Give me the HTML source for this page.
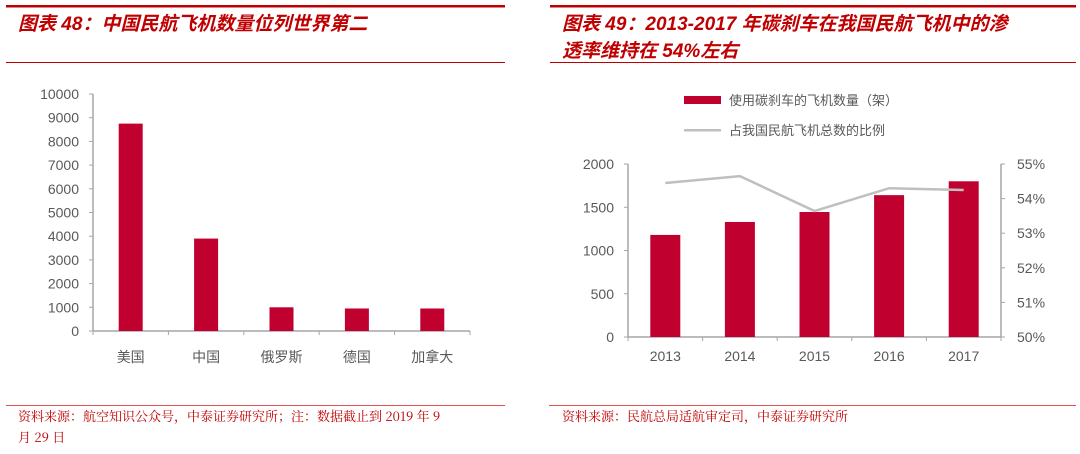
<!DOCTYPE html>
<html><head><meta charset="utf-8"><style>
html,body{margin:0;padding:0;background:#fff;width:1080px;height:454px;overflow:hidden}
svg text{font-family:"Liberation Sans","Noto Sans CJK SC",sans-serif}
.t{font-weight:bold;font-style:italic;fill:#c00000;font-size:19px}
.ax{fill:#595959;font-size:14px}
.src{fill:#c00000;font-size:13px;font-family:"Noto Serif CJK SC","Liberation Serif",serif}
</style></head><body>
<svg id="s" width="1080" height="454" xmlns="http://www.w3.org/2000/svg">
<rect x="6" y="5" width="499" height="2.5" fill="#c00000"/>
<text class="t" x="18" y="30">图表 48：中国民航飞机数量位列世界第二</text>
<rect x="6" y="62" width="499" height="1" fill="#c00000"/>
<rect x="550" y="5" width="526" height="2.5" fill="#c00000"/>
<text class="t" x="562" y="30">图表 49：2013-2017 年碳刹车在我国民航飞机中的渗</text>
<text class="t" x="562" y="57">透率维持在 54%左右</text>
<rect x="550" y="62" width="526" height="1" fill="#c00000"/>
<rect x="6" y="405" width="499" height="1" fill="#e05050"/>
<text class="src" x="18" y="421">资料来源：航空知识公众号，中泰证券研究所；注：数据截止到 2019 年 9</text>
<text class="src" x="18" y="442">月 29 日</text>
<rect x="549" y="405" width="527" height="1" fill="#e05050"/>
<text class="src" x="562" y="421">资料来源：民航总局适航审定司，中泰证券研究所</text>
<g id="L"></g>
<g id="R"></g>
<rect x="684" y="96" width="37" height="8" fill="#c0002f"/>
<text x="729" y="105" fill="#595959" font-size="13">使用碳刹车的飞机数量（架）</text>
<rect x="684" y="129" width="37" height="2.5" fill="#bfbfbf"/>
<text x="729" y="135" fill="#595959" font-size="13">占我国民航飞机总数的比例</text>
</svg>
<script>
const leftCats=["美国","中国","俄罗斯","德国","加拿大"];
const leftVals=[8750,3900,1000,950,950];
const leftTicks=[0,1000,2000,3000,4000,5000,6000,7000,8000,9000,10000];
const rightCats=["2013","2014","2015","2016","2017"];
const rightBars=[1180,1330,1445,1640,1800];
const rightPct=[54.45,54.65,53.64,54.3,54.25];
const rightTicks=[0,500,1000,1500,2000];
const pctTicks=[50,51,52,53,54,55];
const NS="http://www.w3.org/2000/svg";
function mk(p,t,a){const e=document.createElementNS(NS,t);for(const k in a)e.setAttribute(k,a[k]);p.appendChild(e);return e;}
// left chart
(function(){
const g=document.getElementById('L');
const x0=93,x1=470,y0=331,y1=94,max=10000;
const y=v=>y0-(v/max)*(y0-y1);
const bw=(x1-x0)/leftCats.length;
const ax=mk(g,'line',{x1:x0,y1:y0,x2:x0,y2:y1,stroke:'#a6a6a6','stroke-width':1.5});


leftTicks.forEach(v=>{
 const t=mk(g,'line',{x1:x0-4,x2:x0,y1:y(v),y2:y(v),stroke:'#a6a6a6'});
 
 
 const l=mk(g,'text',{x:x0-14,y:y(v)+5,'text-anchor':'end',class:'ax'});l.textContent=v;
 
 
});
const xa=mk(g,'line',{x1:x0,y1:y0,x2:x1,y2:y0,stroke:'#a6a6a6','stroke-width':1.5});


for(let i=0;i<=leftCats.length;i++){const t=mk(g,'line',{x1:x0+i*bw,x2:x0+i*bw,y1:y0,y2:y0+4,stroke:'#a6a6a6'});
 
 }
leftCats.forEach((c,i)=>{
 const cx=x0+bw*(i+0.5);
 const b=mk(g,'rect',{x:cx-12,y:y(leftVals[i]),width:24,height:y0-y(leftVals[i]),fill:'#c0002f'});
 
 
 const l=mk(g,'text',{x:cx,y:362,'text-anchor':'middle',class:'ax'});l.textContent=c;
 
 
});
})();
// right chart
(function(){
const g=document.getElementById('R');
const x0=628,x1=1001,y0=337,y1=164,max=2000;
const y=v=>y0-(v/max)*(y0-y1);
const yp=p=>y0-((p-50)/5)*(y0-y1);
const bw=(x1-x0)/rightCats.length;
[[x0,'left'],[x1,'right']].forEach(([xx,n])=>{const a=mk(g,'line',{x1:xx,y1:y0,x2:xx,y2:y1,stroke:'#a6a6a6','stroke-width':1.5});
 
 });
rightTicks.forEach(v=>{
 const t=mk(g,'line',{x1:x0-4,x2:x0,y1:y(v),y2:y(v),stroke:'#a6a6a6'});
 
 
 const l=mk(g,'text',{x:x0-14,y:y(v)+5,'text-anchor':'end',class:'ax'});l.textContent=v;
 
 
});
pctTicks.forEach(p=>{
 const t=mk(g,'line',{x1:x1,x2:x1+4,y1:yp(p),y2:yp(p),stroke:'#a6a6a6'});
 
 
 const l=mk(g,'text',{x:x1+16,y:yp(p)+5,class:'ax'});l.textContent=p+'%';
 
 
});
const xa=mk(g,'line',{x1:x0,y1:y0,x2:x1,y2:y0,stroke:'#a6a6a6','stroke-width':1.5});


for(let i=0;i<=rightCats.length;i++){const t=mk(g,'line',{x1:x0+i*bw,x2:x0+i*bw,y1:y0,y2:y0+4,stroke:'#a6a6a6'});
 
 }
const pts=[];
rightCats.forEach((c,i)=>{
 const cx=x0+bw*(i+0.5);
 const b=mk(g,'rect',{x:cx-15,y:y(rightBars[i]),width:30,height:y0-y(rightBars[i]),fill:'#c0002f'});
 
 
 const l=mk(g,'text',{x:cx,y:361,'text-anchor':'middle',class:'ax'});l.textContent=c;
 
 
 pts.push(cx+','+yp(rightPct[i]));
});
const pl=mk(g,'polyline',{points:pts.join(' '),fill:'none',stroke:'#bfbfbf','stroke-width':2.5});


})();
</script>
</body></html>
